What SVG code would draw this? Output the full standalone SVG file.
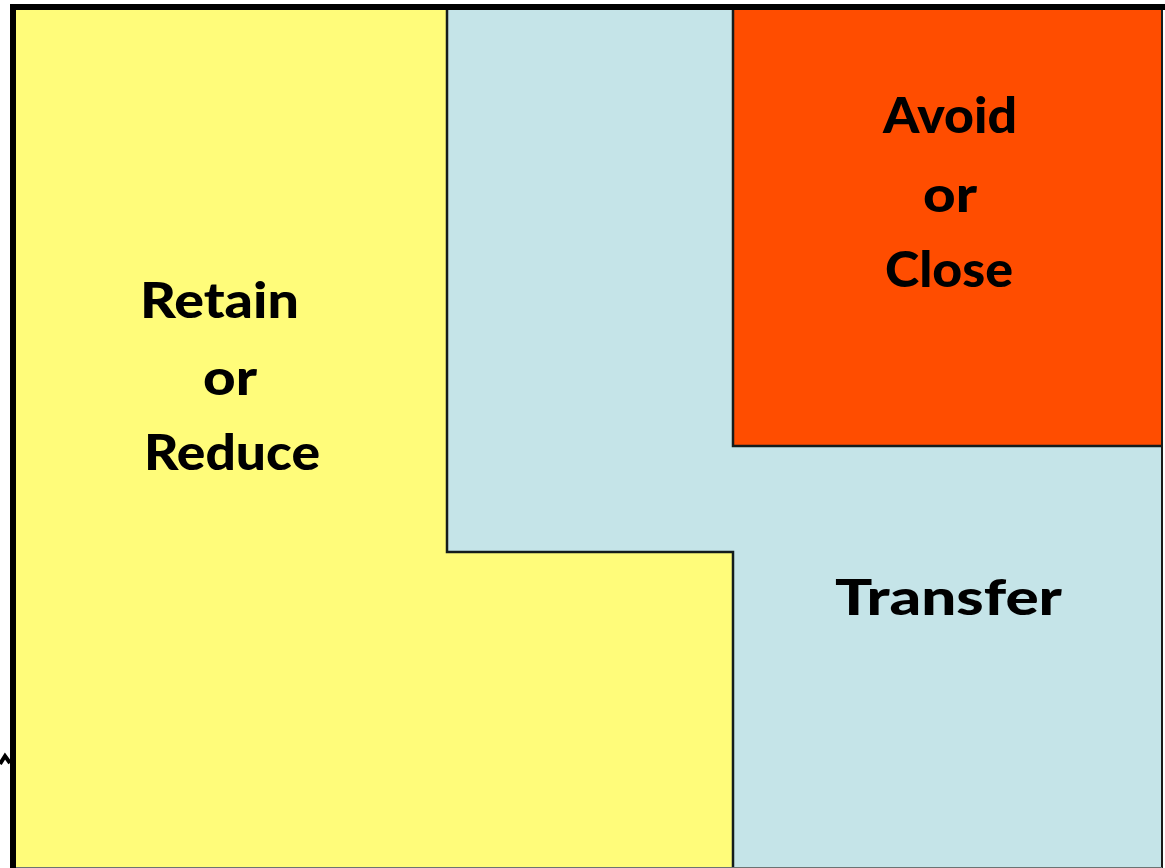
<svg xmlns="http://www.w3.org/2000/svg" width="1165" height="868" viewBox="0 0 1165 868">
  <style>
    .lbl { font-family: "Comic Sans MS", "Lato", "DejaVu Sans", sans-serif; font-weight: 900; font-size: 50px; fill: #000; }
    .edge { stroke: #141c1c; stroke-width: 2.5; fill: none; }
  </style>
  <rect x="0" y="0" width="1165" height="868" fill="#ffffff"/>

  <!-- Retain / Reduce region (L-shaped) -->
  <g id="retain">
    <polygon points="16,10 447,10 447,552 733,552 733,868 16,868" fill="#fffc7a"/>
    <text class="lbl" x="140" y="318" textLength="159" lengthAdjust="spacingAndGlyphs">Retain</text>
    <text class="lbl" x="203" y="395" textLength="54" lengthAdjust="spacingAndGlyphs">or</text>
    <text class="lbl" x="144" y="470" textLength="176" lengthAdjust="spacingAndGlyphs">Reduce</text>
  </g>

  <!-- Transfer region -->
  <g id="transfer">
    <polygon points="447,10 733,10 733,446 1162,446 1162,868 733,868 733,552 447,552" fill="#c5e4e8"/>
    <text class="lbl" x="835" y="615" textLength="227" lengthAdjust="spacingAndGlyphs">Transfer</text>
  </g>

  <!-- Avoid / Close region -->
  <g id="avoid">
    <rect x="733" y="10" width="429" height="436" fill="#ff4d00"/>
    <text class="lbl" x="883" y="133" textLength="134" lengthAdjust="spacingAndGlyphs">Avoid</text>
    <text class="lbl" x="923" y="212" textLength="54" lengthAdjust="spacingAndGlyphs">or</text>
    <text class="lbl" x="885" y="287" textLength="128" lengthAdjust="spacingAndGlyphs">Close</text>
  </g>

  <!-- region borders -->
  <g id="borders">
    <polyline class="edge" points="447,10 447,552 733,552 733,868"/>
    <polyline class="edge" points="733,10 733,446 1162,446"/>
    <line x1="1162" y1="10" x2="1162" y2="868" stroke="#1a1a1a" stroke-width="2"/>
    <line x1="16" y1="867.5" x2="1162" y2="867.5" stroke="#6b7373" stroke-width="1"/>
    <rect x="10" y="4" width="1155" height="6" fill="#000"/>
    <rect x="10" y="4" width="6" height="864" fill="#000"/>
    <polyline points="0,764 5,756 10,763" fill="none" stroke="#000" stroke-width="4"/>
  </g>
</svg>
